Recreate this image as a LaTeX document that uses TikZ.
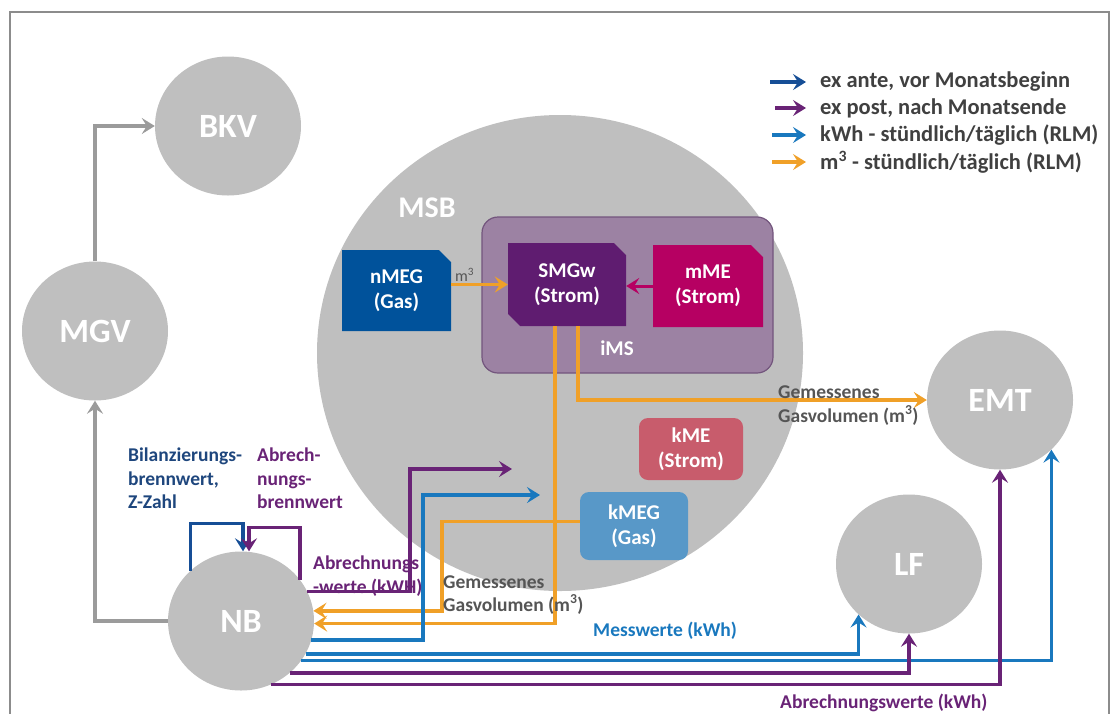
\documentclass[tikz,border=0pt]{standalone}
\usepackage{fontspec}
\setmainfont{Carlito}
\usetikzlibrary{positioning,arrows.meta,calc,shapes.geometric,shapes.misc}

\definecolor{rundgrau}{RGB}{191,191,191}
\definecolor{pfeilgrau}{RGB}{155,155,155}
\definecolor{rahmen}{RGB}{140,140,140}
\definecolor{exante}{RGB}{22,78,150}
\definecolor{expost}{RGB}{105,35,118}
\definecolor{kwhblau}{RGB}{25,120,190}
\definecolor{gasorange}{RGB}{240,160,40}
\definecolor{imslila}{RGB}{156,130,163}
\definecolor{imsrand}{RGB}{115,85,125}
\definecolor{nmegblau}{RGB}{0,82,155}
\definecolor{smgwlila}{RGB}{95,28,112}
\definecolor{mmerot}{RGB}{182,0,98}
\definecolor{kmerot}{RGB}{200,92,108}
\definecolor{kmegblau}{RGB}{88,152,200}
\definecolor{textgrau}{RGB}{85,85,85}
\definecolor{legendgrau}{RGB}{64,64,64}
\definecolor{bilanzblau}{RGB}{30,70,125}

\begin{document}
\begin{tikzpicture}[
  x=1pt, y=-1pt,
  rolle/.style={ellipse, fill=rundgrau, minimum width=146, minimum height=139, inner sep=0pt, text=white, font=\fontsize{34}{40}\selectfont\bfseries},
  zaehler/.style={chamfered rectangle, chamfered rectangle corners=north east, chamfered rectangle xsep=9pt, text=white, align=center, inner sep=0pt, font=\fontsize{21}{25}\selectfont\bfseries},
  kasten/.style={rectangle, rounded corners=9pt, text=white, align=center, inner sep=0pt, font=\fontsize{21}{25}\selectfont\bfseries},
  pil/.style={-{Stealth[length=13pt, width=16pt, inset=5pt]}, line width=3.5pt},
  notiz/.style={align=left, inner sep=0pt, font=\fontsize{19.5}{23.5}\selectfont\bfseries},
  legtext/.style={anchor=west, inner sep=0pt, text=legendgrau, font=\fontsize{22.5}{26}\selectfont\bfseries}
]
\useasboundingbox (0,0) rectangle (1118,713);
\draw[rahmen, line width=1.5pt] (10,720) |- (1109,12) -- (1109,720);

% Messstellenbetreiber mit Geraeten
\node[ellipse, fill=rundgrau, minimum width=486, minimum height=476, inner sep=0pt] (MSB) at (560,353) {};
\node[text=white, font=\fontsize{30}{36}\selectfont\bfseries] (msbtxt) at (427,208) {MSB};
\node[draw=imsrand, fill=imslila, line width=1.2pt, rounded corners=16pt, minimum width=291, minimum height=156] (iMS) at (627.5,295) {};
\node[text=white, font=\fontsize{21}{25}\selectfont\bfseries] (imstxt) at (617,348) {iMS};
\node[zaehler, fill=nmegblau, minimum width=109, minimum height=81] (nMEG) at (396.5,290.5) {nMEG\\(Gas)};
\node[zaehler, fill=smgwlila, chamfered rectangle corners={north east,south west}, minimum width=118, minimum height=83] (SMGw) at (567,284.5) {SMGw\\(Strom)};
\node[zaehler, fill=mmerot, minimum width=110, minimum height=82] (mME) at (708,286) {mME\\(Strom)};
\node[kasten, fill=kmerot, minimum width=104, minimum height=62] (kME) at (691,449) {kME\\(Strom)};
\node[kasten, fill=kmegblau, minimum width=108, minimum height=68] (kMEG) at (634,526) {kMEG\\(Gas)};

% Marktrollen
\node[rolle] (BKV) at (228,126) {BKV};
\node[rolle] (MGV) at (95,331) {MGV};
\node[rolle] (NB) at (241,621) {NB};
\node[rolle] (LF) at (909,564) {LF};
\node[rolle] (EMT) at (1000,400) {EMT};

% Legende
\coordinate (la1) at (770,82);  \coordinate (lb1) at (806,82);
\coordinate (la2) at (775,108); \coordinate (lb2) at (806,108);
\coordinate (la3) at (772,135); \coordinate (lb3) at (806,135);
\coordinate (la4) at (772,162); \coordinate (lb4) at (806,162);
\draw[pil, exante] (la1) -- (lb1);
\draw[pil, expost] (la2) -- (lb2);
\draw[pil, kwhblau] (la3) -- (lb3);
\draw[pil, gasorange] (la4) -- (lb4);
\node[legtext, right=14pt of lb1] (leg1) {ex ante, vor Monatsbeginn};
\node[legtext, right=14pt of lb2] (leg2) {ex post, nach Monatsende};
\node[legtext, right=14pt of lb3] (leg3) {kWh - stündlich/täglich (RLM)};
\node[legtext, right=14pt of lb4] (leg4) {m\textsuperscript{3} - stündlich/täglich (RLM)};

% graue Verbindungen
\draw[pil, pfeilgrau] (MGV.north) |- (BKV.west);
\draw[pil, pfeilgrau] (NB.west) -| (MGV.south);

% Gas (m3)
\draw[pil, gasorange] (nMEG.east |- SMGw.west) -- node[pos=0.02, above right, inner sep=1pt, text=textgrau, font=\fontsize{16}{18}\selectfont]{m\textsuperscript{3}} (SMGw.west);
\draw[pil, mmerot, line width=3pt] (mME.west) -- (SMGw.east |- mME.west);
\draw[pil, gasorange] ($(SMGw.south)+(11,0)$) |- (EMT.west);
\draw[pil, gasorange] ($(SMGw.south)+(-12,0)$) |- (NB.-2);
\draw[pil, gasorange] (kMEG.175) -- ++(-138,0) |- (NB.8);

% NB an MSB
\coordinate (postknick) at (410,469);
\coordinate (msbpost) at (512,469);
\coordinate (kwhknick) at (423,495);
\coordinate (msbkwh) at (540,495);
\draw[pil, expost] (NB.24) -| (postknick) -- (msbpost);
\draw[pil, kwhblau] (NB.-15) -| (kwhknick) -- (msbkwh);

% NB an LF und EMT
\draw[pil, kwhblau] (NB.-27) -| (LF.-135);
\draw[pil, kwhblau] (NB.-33) -| (EMT.-44);
\draw[pil, expost] (NB.-47) -| (LF.south);
\draw[pil, expost] (NB.-65) -| (EMT.south);

% Brennwerte
\draw[pil, exante] (NB.135) -- ++(0,-47) -| ($(NB.north)+(2,0)$);
\draw[pil, expost] (NB.35) -- ++(0,-52) -| ($(NB.north)+(8,0)$);

% Beschriftungen
\node[notiz, text=bilanzblau, anchor=north west] (bilanz) at (128,448) {Bilanzierungs-\\brennwert,\\Z-Zahl};
\node[notiz, text=expost, anchor=north west] (abrbrenn) at (257,448) {Abrech-\\nungs-\\brennwert};
\node[notiz, text=expost, anchor=north west] (abrwerte) at (313,556) {Abrechnungs\\-werte (kWH)};
\node[notiz, text=textgrau, anchor=north west] (gasnb) at (443,575) {Gemessenes\\Gasvolumen (m\textsuperscript{3})};
\node[notiz, text=textgrau, anchor=north west] (gasemt) at (778,386) {Gemessenes\\Gasvolumen (m\textsuperscript{3})};
\node[notiz, text=kwhblau, anchor=west] (messw) at (593,631) {Messwerte (kWh)};
\node[notiz, text=expost, anchor=west] (abrkwh) at (780,703) {Abrechnungswerte (kWh)};
\end{tikzpicture}
\end{document}
